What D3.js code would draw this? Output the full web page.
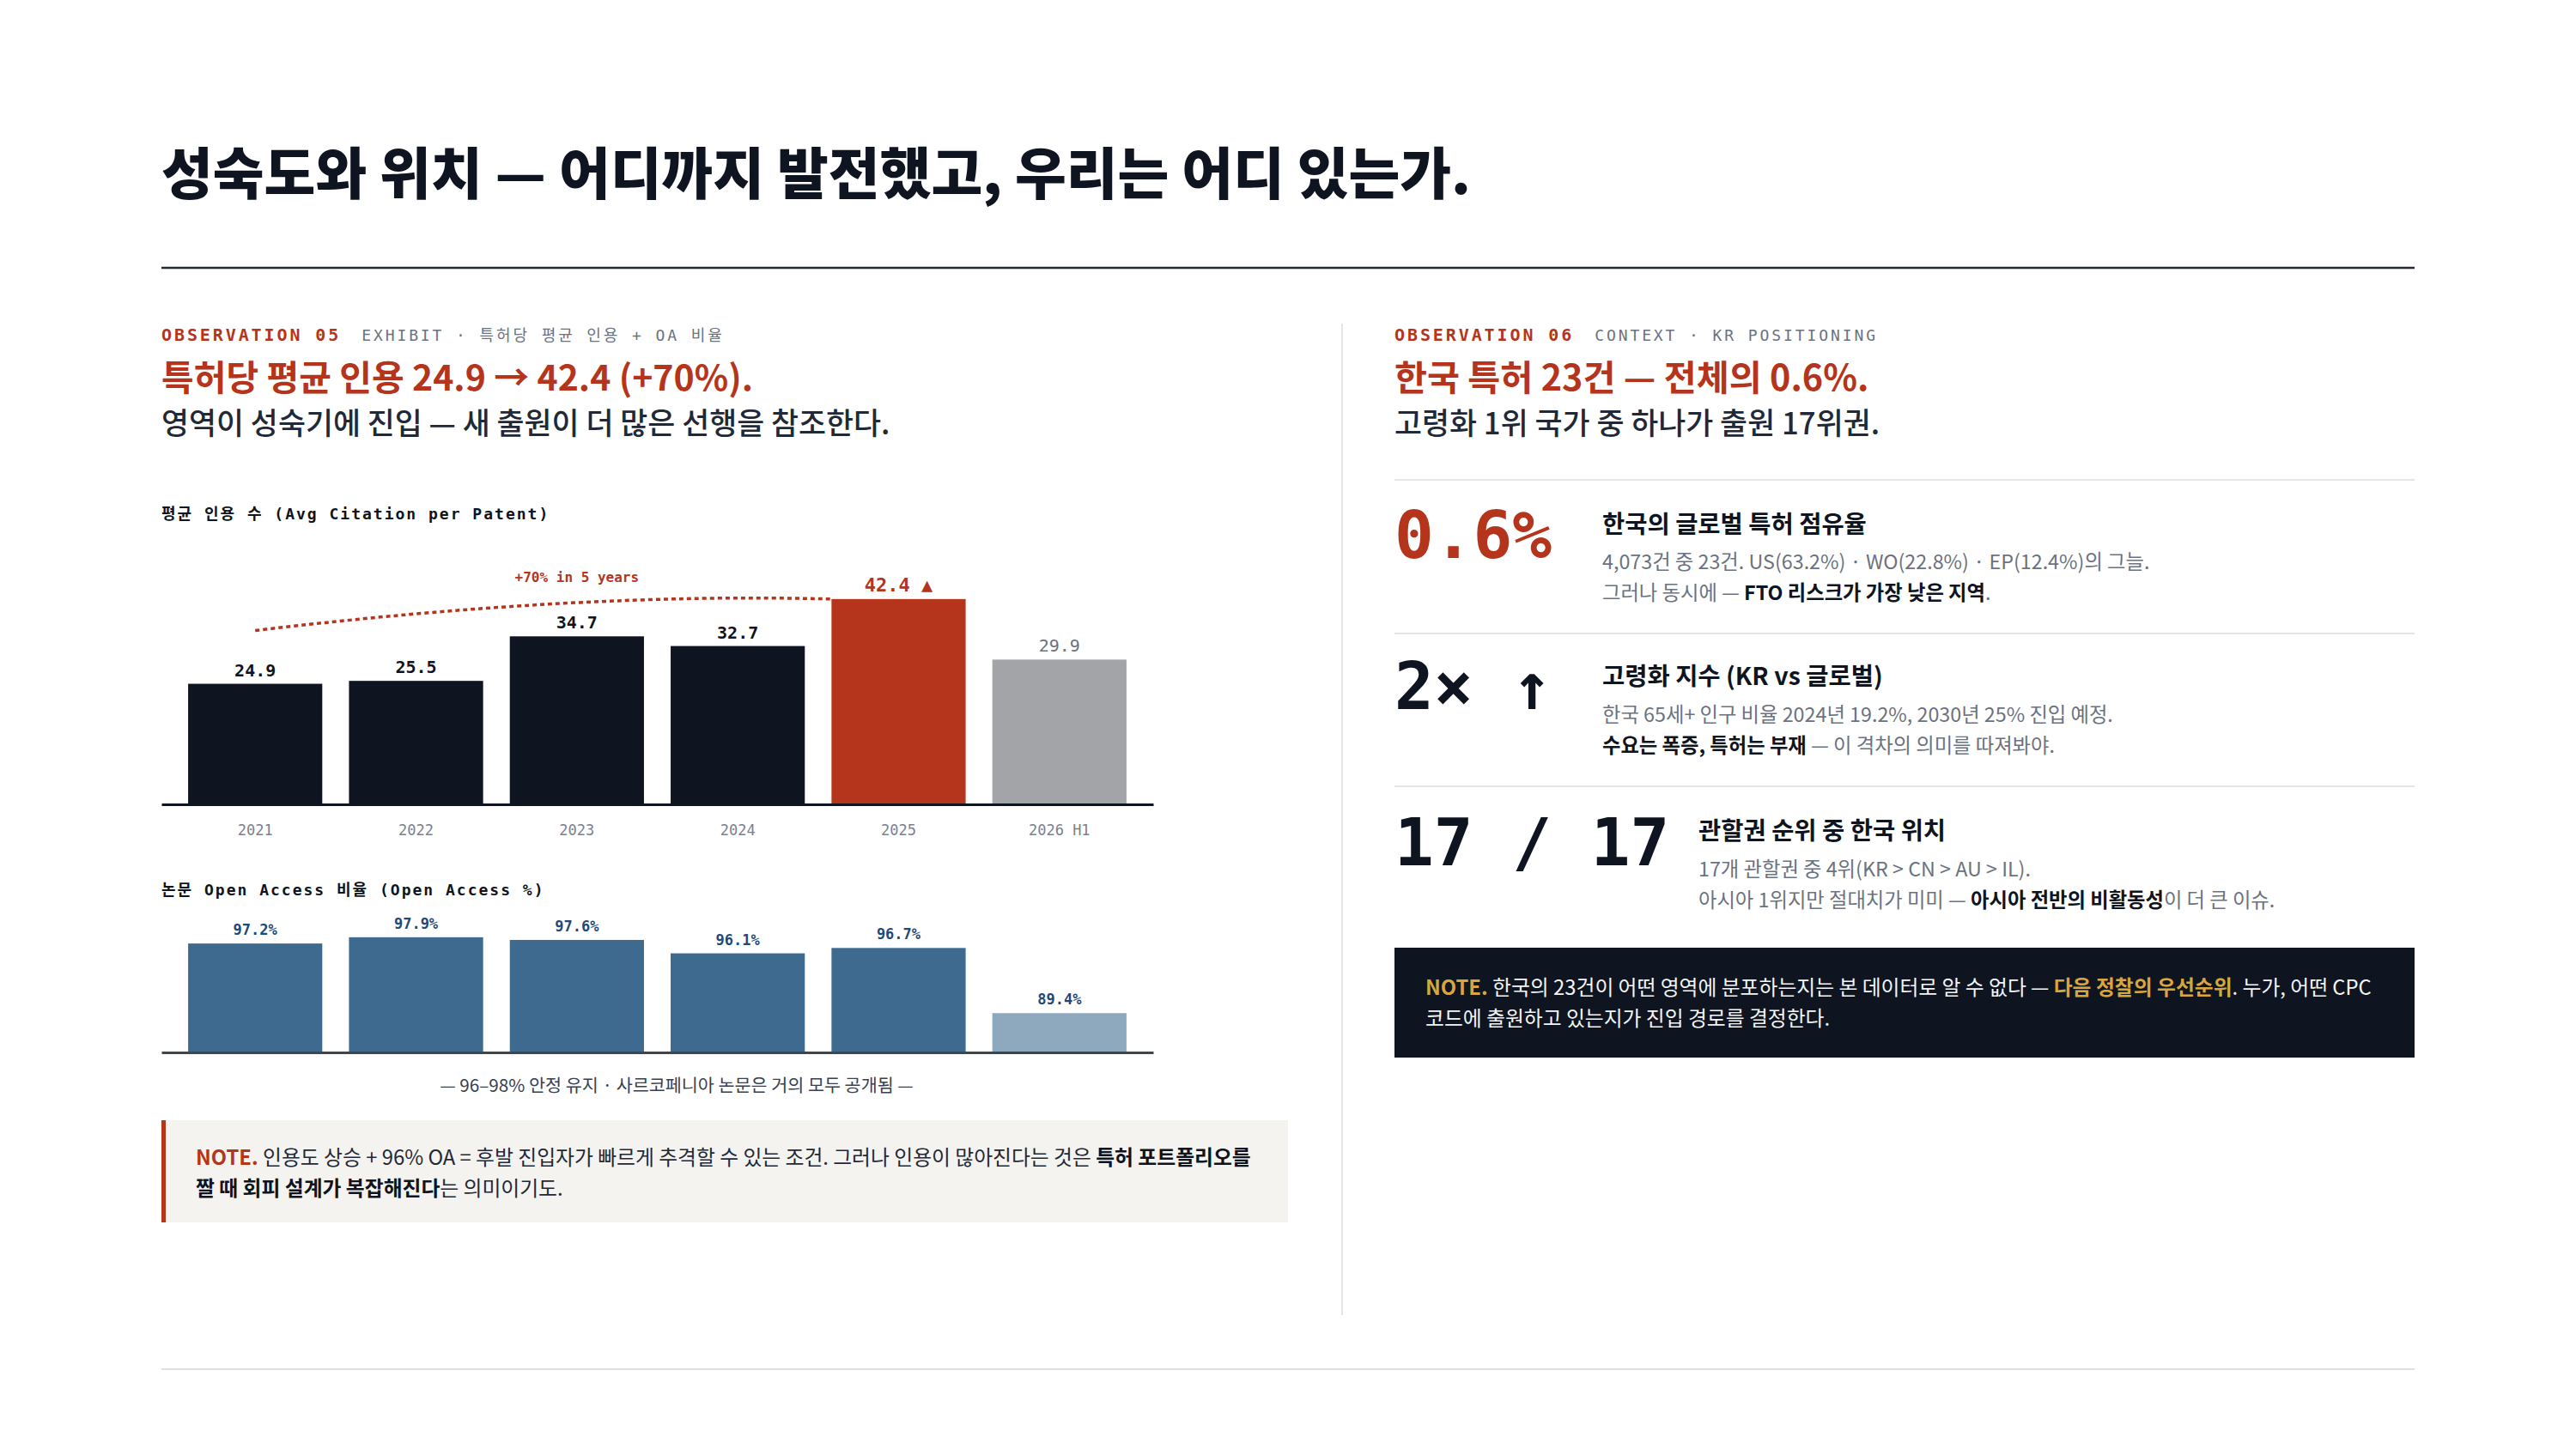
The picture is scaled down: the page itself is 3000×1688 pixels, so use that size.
<!DOCTYPE html>
<html>
<head>
<meta charset="utf-8">
<script src="https://cdn.jsdelivr.net/npm/d3@7"></script>
<style>
  html, body { margin: 0; padding: 0; background: #fff; }
  svg { display: block; }
</style>
</head>
<body>
<svg id="page"></svg>
<script>
// data
const years = ["2021", "2022", "2023", "2024", "2025", "2026 H1"];
const avgCitation = [24.9, 25.5, 34.7, 32.7, 42.4, 29.9];
const oaShare = [97.2, 97.9, 97.6, 96.1, 96.7, 89.4];
const peakYear = "2025";
const partialYear = "2026 H1";

const W = 3000, H = 1688;
const SANS = "'Noto Sans CJK KR', 'Noto Sans', sans-serif";
const MONO = "'DejaVu Sans Mono', 'Liberation Mono', 'Noto Sans CJK KR', monospace";
const INK = "#0e1420", RED = "#b5351c", GREY = "#6b7280", GOLD = "#d9a63c";

const svg = d3.select("#page").attr("width", W).attr("height", H).attr("viewBox", `0 0 ${W} ${H}`);
svg.append("rect").attr("width", W).attr("height", H).attr("fill", "#fff");

// rich text line: segments [text, {attrs}]
function line(g, x, y, segs, base){
  const t = g.append("text").attr("x", x).attr("y", y);
  Object.entries(base).forEach(([k, v]) => t.attr(k, v));
  segs.forEach(([s, a]) => {
    const sp = t.append("tspan").text(s);
    if(a) Object.entries(a).forEach(([k, v]) => sp.attr(k, v));
  });
  return t;
}

// header
svg.append("text")
  .attr("x", 188).attr("y", 226)
  .attr("font-family", SANS).attr("font-weight", 900).attr("font-size", 65)
  .attr("fill", INK)
  .text("성숙도와 위치 — 어디까지 발전했고, 우리는 어디 있는가.");
svg.append("line").attr("x1", 188).attr("x2", 2812).attr("y1", 312).attr("y2", 312)
  .attr("stroke", "#252b36").attr("stroke-width", 2.5);
svg.append("line").attr("x1", 188).attr("x2", 2812).attr("y1", 1595).attr("y2", 1595)
  .attr("stroke", "#dcdfe4").attr("stroke-width", 2);
svg.append("line").attr("x1", 1563).attr("x2", 1563).attr("y1", 377).attr("y2", 1532)
  .attr("stroke", "#e3e5e9").attr("stroke-width", 2);

// ---------- left column ----------
const L = svg.append("g");
line(L, 188, 397, [
  ["OBSERVATION 05", { "font-weight": 700, fill: RED }],
  ["EXHIBIT · 특허당 평균 인용 + OA 비율", { fill: GREY, "font-size": 18, dx: 24 }]
], { "font-family": MONO, "font-size": 20, "letter-spacing": 2.9 });

line(L, 188, 455, [["특허당 평균 인용 24.9 → 42.4 (+70%)."]],
  { "font-family": SANS, "font-weight": 700, "font-size": 41, fill: RED });
line(L, 188, 506, [["영역이 성숙기에 진입 — 새 출원이 더 많은 선행을 참조한다."]],
  { "font-family": SANS, "font-weight": 500, "font-size": 34.8, fill: "#1f2937" });

line(L, 188, 605, [["평균 인용 수 (Avg Citation per Patent)"]],
  { "font-family": MONO, "font-weight": 700, "font-size": 18, "letter-spacing": 2, fill: INK });

// main bar chart
const x = d3.scaleBand().domain(years).range([188, 1343]).padding(0.166);
const y = d3.scaleLinear().domain([0, 50]).range([937, 655]);
const bw = x.bandwidth();

const barFill = d => d === peakYear ? RED : d === partialYear ? "#a2a4a8" : INK;

L.append("g").selectAll("rect")
  .data(years)
  .join("rect")
  .attr("x", d => x(d))
  .attr("y", (d, i) => y(avgCitation[i]))
  .attr("width", bw)
  .attr("height", (d, i) => y(0) - y(avgCitation[i]))
  .attr("fill", barFill);

L.append("g").selectAll("text")
  .data(years)
  .join("text")
  .attr("x", d => x(d) + bw / 2)
  .attr("y", (d, i) => y(avgCitation[i]) - 9)
  .attr("text-anchor", "middle")
  .attr("font-family", MONO)
  .attr("font-size", d => d === peakYear ? 22 : 20)
  .attr("font-weight", d => d === partialYear ? 400 : 700)
  .attr("fill", d => d === peakYear ? RED : d === partialYear ? GREY : INK)
  .text((d, i) => d === peakYear ? `${avgCitation[i]} ▲` : avgCitation[i]);

const xAxis = L.append("g")
  .attr("transform", `translate(0,${y(0)})`)
  .call(d3.axisBottom(x).tickSize(0).tickSizeOuter(0).tickPadding(24));
xAxis.select(".domain").attr("stroke", INK).attr("stroke-width", 3);
xAxis.selectAll("text")
  .attr("font-family", MONO).attr("font-size", 17).attr("fill", "#7a8090");

// dotted trend annotation
const first = years[0], mid = years[2];
const p = d3.path();
p.moveTo(x(first) + bw / 2, y(avgCitation[0] + 11));
p.quadraticCurveTo(x(mid) + bw / 2, y(d3.max(avgCitation)) - 8, x(peakYear), y(d3.max(avgCitation)));
L.append("path").attr("d", p.toString())
  .attr("fill", "none").attr("stroke", RED).attr("stroke-width", 3.5)
  .attr("stroke-dasharray", "5 4");
L.append("text")
  .attr("x", x(mid) + bw / 2).attr("y", 678)
  .attr("text-anchor", "middle")
  .attr("font-family", MONO).attr("font-weight", 700).attr("font-size", 16)
  .attr("fill", RED)
  .text("+70% in 5 years");

// OA chart
line(L, 188, 1043, [["논문 Open Access 비율 (Open Access %)"]],
  { "font-family": MONO, "font-weight": 700, "font-size": 18, "letter-spacing": 2, fill: INK });

const y2 = d3.scaleLinear().domain([85, 100]).range([1226, 1070]);
L.append("g").selectAll("rect")
  .data(years)
  .join("rect")
  .attr("x", d => x(d))
  .attr("y", (d, i) => y2(oaShare[i]))
  .attr("width", bw)
  .attr("height", (d, i) => y2(85) - y2(oaShare[i]))
  .attr("fill", d => d === partialYear ? "#8ea8be" : "#3d6a8e");

L.append("g").selectAll("text")
  .data(years)
  .join("text")
  .attr("x", d => x(d) + bw / 2)
  .attr("y", (d, i) => y2(oaShare[i]) - 10)
  .attr("text-anchor", "middle")
  .attr("font-family", MONO).attr("font-weight", 700).attr("font-size", 17)
  .attr("fill", "#1f4a78")
  .text((d, i) => `${oaShare[i]}%`);

const xAxis2 = L.append("g")
  .attr("transform", `translate(0,${y2(85)})`)
  .call(d3.axisBottom(x).tickSize(0).tickSizeOuter(0).tickFormat(""));
xAxis2.select(".domain").attr("stroke", "#3f4652").attr("stroke-width", 3);

L.append("text")
  .attr("x", 788).attr("y", 1272)
  .attr("text-anchor", "middle")
  .attr("font-family", SANS).attr("font-size", 20.7).attr("fill", "#374151")
  .text("— 96–98% 안정 유지 · 사르코페니아 논문은 거의 모두 공개됨 —");

// left note
L.append("rect").attr("x", 188).attr("y", 1305).attr("width", 1312).attr("height", 119).attr("fill", "#f4f3ef");
L.append("rect").attr("x", 188).attr("y", 1305).attr("width", 5).attr("height", 119).attr("fill", RED);
const noteBase = { "font-family": SANS, "font-size": 23.8, fill: "#1f2937" };
line(L, 228, 1357, [
  ["NOTE. ", { fill: RED, "font-weight": 700 }],
  ["인용도 상승 + 96% OA = 후발 진입자가 빠르게 추격할 수 있는 조건. 그러나 인용이 많아진다는 것은 "],
  ["특허 포트폴리오를", { "font-weight": 700, fill: INK }]
], noteBase);
line(L, 228, 1393, [
  ["짤 때 회피 설계가 복잡해진다", { "font-weight": 700, fill: INK }],
  ["는 의미이기도."]
], noteBase);

// ---------- right column ----------
const R = svg.append("g");
const rx = 1624;
line(R, rx, 397, [
  ["OBSERVATION 06", { "font-weight": 700, fill: RED }],
  ["CONTEXT · KR POSITIONING", { fill: GREY, "font-size": 18, dx: 24 }]
], { "font-family": MONO, "font-size": 20, "letter-spacing": 2.9 });
line(R, rx, 455, [["한국 특허 23건 — 전체의 0.6%."]],
  { "font-family": SANS, "font-weight": 700, "font-size": 41.3, fill: RED });
line(R, rx, 506, [["고령화 1위 국가 중 하나가 출원 17위권."]],
  { "font-family": SANS, "font-weight": 500, "font-size": 34.8, fill: "#1f2937" });

[559, 738, 916].forEach(yy => R.append("line")
  .attr("x1", rx).attr("x2", 2812).attr("y1", yy).attr("y2", yy)
  .attr("stroke", "#e3e5e9").attr("stroke-width", 2));

const bigBase = { "font-family": MONO, "font-weight": 700, "font-size": 76 };
const ttlBase = { "font-family": SANS, "font-weight": 700, "font-size": 28.5, fill: INK };
const descBase = { "font-family": SANS, "font-size": 23.3, fill: GREY };
const strong = { "font-weight": 700, fill: INK };

line(R, rx, 650, [["0.6%"]], { ...bigBase, fill: RED });
line(R, 1866, 621, [["한국의 글로벌 특허 점유율"]], ttlBase);
line(R, 1866, 663, [["4,073건 중 23건. US(63.2%) · WO(22.8%) · EP(12.4%)의 그늘."]], descBase);
line(R, 1866, 699, [["그러나 동시에 — "], ["FTO 리스크가 가장 낮은 지역", strong], ["."]], descBase);

line(R, rx, 826, [["2× ↑"]], { ...bigBase, fill: INK });
line(R, 1866, 798, [["고령화 지수 (KR vs 글로벌)"]], ttlBase);
line(R, 1866, 841, [["한국 65세+ 인구 비율 2024년 19.2%, 2030년 25% 진입 예정."]], descBase);
line(R, 1866, 877, [["수요는 폭증, 특허는 부재", strong], [" — 이 격차의 의미를 따져봐야."]], descBase);

line(R, rx, 1008, [["17 / 17"]], { ...bigBase, fill: INK });
line(R, 1978, 978, [["관할권 순위 중 한국 위치"]], ttlBase);
line(R, 1978, 1021, [["17개 관할권 중 4위(KR > CN > AU > IL)."]], descBase);
line(R, 1978, 1057, [["아시아 1위지만 절대치가 미미 — "], ["아시아 전반의 비활동성", strong], ["이 더 큰 이슈."]], descBase);

R.append("rect").attr("x", rx).attr("y", 1104).attr("width", 1188).attr("height", 128).attr("fill", INK);
const dNote = { "font-family": SANS, "font-size": 23.8, fill: "#f3f4f6" };
line(R, 1660, 1159, [
  ["NOTE. ", { fill: GOLD, "font-weight": 700 }],
  ["한국의 23건이 어떤 영역에 분포하는지는 본 데이터로 알 수 없다 — "],
  ["다음 정찰의 우선순위", { fill: GOLD, "font-weight": 700 }],
  [". 누가, 어떤 CPC"]
], dNote);
line(R, 1660, 1195, [["코드에 출원하고 있는지가 진입 경로를 결정한다."]], dNote);
</script>
</body>
</html>
